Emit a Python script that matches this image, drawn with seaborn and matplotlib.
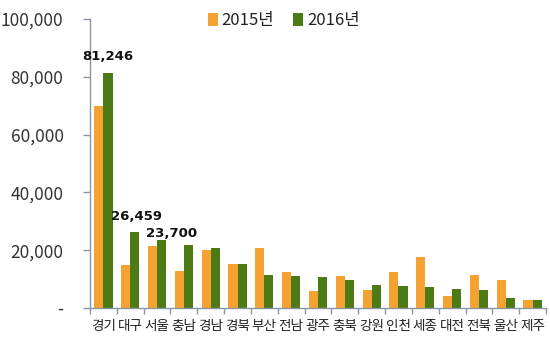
import matplotlib
matplotlib.use("Agg")
import matplotlib.pyplot as plt
import seaborn as sns
import pandas as pd
from matplotlib.ticker import FuncFormatter, FixedLocator

regions = ["경기", "대구", "서울", "충남", "경남", "경북", "부산", "전남", "광주",
           "충북", "강원", "인천", "세종", "대전", "전북", "울산", "제주"]
v2015 = [70000, 15000, 21500, 12800, 20000, 15200, 20700, 12400, 5900,
         11100, 6200, 12400, 17600, 4200, 11400, 9700, 2800]
v2016 = [81246, 26459, 23700, 21800, 20700, 15200, 11400, 11100, 10700,
         9800, 8000, 7600, 7300, 6600, 6200, 3500, 2800]
years = ["2015년", "2016년"]
yticks = [0, 20000, 40000, 60000, 80000, 100000]
labelled = ["경기", "대구", "서울"]

sns.set_theme(style="white")
plt.rcParams["font.family"] = ["Noto Sans CJK KR", "DejaVu Sans"]

df = pd.DataFrame({
    "지역": regions * 2,
    "연도": [years[0]] * len(regions) + [years[1]] * len(regions),
    "값": v2015 + v2016,
})

fig = plt.figure(figsize=(5.5, 3.46), dpi=100)
ax = fig.add_axes([90 / 550, 1 - 308 / 346, 456 / 550, 289 / 346])

sns.barplot(data=df, x="지역", y="값", hue="연도", order=regions,
            hue_order=years, palette=["#F5A233", "#4C7A15"], width=0.68,
            gap=0, saturation=1, linewidth=0, ax=ax, legend=True)

ax.set_xlim(-0.5, len(regions) - 0.5)
ax.set_ylim(0, 100000)
ax.set_xlabel("")
ax.set_ylabel("")

axis_col = "#8A94A6"
for side in ["top", "right"]:
    ax.spines[side].set_visible(False)
for side in ["left", "bottom"]:
    ax.spines[side].set_color(axis_col)
    ax.spines[side].set_linewidth(1.0)

ax.yaxis.set_major_locator(FixedLocator(yticks))
ax.yaxis.set_major_formatter(FuncFormatter(lambda v, p: "-" if v == 0 else f"{int(v):,}"))
ax.tick_params(axis="y", which="major", left=True, length=5, width=1,
               color=axis_col, pad=14, labelsize=12.5, labelcolor="#333333")

ax.set_xticks(range(len(regions)))
ax.set_xticklabels(regions)
ax.set_xticks([i + 0.5 for i in range(-1, len(regions))], minor=True)
ax.tick_params(axis="x", which="major", length=0, pad=8, labelsize=9.8,
               labelcolor="#222222")
ax.tick_params(axis="x", which="minor", bottom=True, length=4, width=1,
               color=axis_col)

# value labels on the highlighted 2016 bars
offsets = {"경기": (0, 7), "대구": (1, 6), "서울": (7, 0)}
bars2016 = ax.containers[1]
for i, name in enumerate(regions):
    if name in labelled:
        bar = bars2016[i]
        x = bar.get_x() + bar.get_width() / 2
        val = v2016[i]
        ax.annotate(f"{val:,}", xy=(x, val), xytext=offsets[name],
                    textcoords="offset points", ha="center", va="bottom",
                    fontsize=9.5, fontweight="bold", color="#111111",
                    family=["DejaVu Sans"])

leg = ax.legend(loc="upper left", bbox_to_anchor=(0.225, 1.075), ncol=2,
                frameon=False, fontsize=12, handlelength=0.6, handleheight=0.8,
                handletextpad=0.25, columnspacing=1.1)
for t in leg.get_texts():
    t.set_color("#222222")

fig.savefig("out.png", dpi=100)
